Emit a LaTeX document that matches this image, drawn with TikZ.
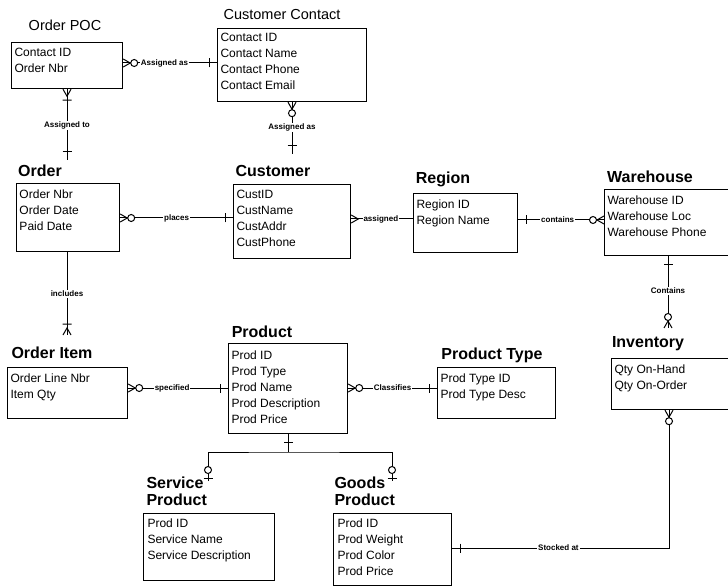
\documentclass[tikz,border=0pt]{standalone}
\usepackage{xcolor}
\usepackage{fontspec}
\setmainfont{Liberation Sans}
\usetikzlibrary{positioning}

\begin{document}
\begin{tikzpicture}[
        x=1pt, y=-1pt, line width=1pt,
        every node/.style={inner sep=0pt},
        entity/.style={draw, anchor=north west, line width=1.2pt},
        fields/.style={anchor=north west, align=left, font=\fontsize{12}{16}\selectfont},
        etitle/.style={font=\fontsize{16}{17}\selectfont\bfseries},
        ptitle/.style={font=\fontsize{14.5}{16}\selectfont},
        rel/.style={font=\fontsize{8}{9}\selectfont\bfseries, fill=white, inner sep=1pt},
        many/.pic={\draw (0,-4) -- (7,0) -- (0,4);},
        zmany/.pic={\draw (0,-4) -- (7,0) -- (0,4); \draw[fill=white] (11,0) circle[radius=3.5pt];},
        mmany/.pic={\draw (0,-4) -- (7,0) -- (0,4) (11,-4.5) -- (11,4.5);},
        one/.pic={\draw (8,-4.5) -- (8,4.5);},
        zone/.pic={\draw (3,-4.5) -- (3,4.5); \draw[fill=white] (11,0) circle[radius=3.5pt];},
    ]
    \useasboundingbox (0,0) rectangle (728,588);

    % Order POC
    \node[ptitle] (poc-t) at (65,25) {Order POC};
    \node[entity, minimum width=111, minimum height=46] (poc) at (11,42) {};
    \node[fields, below right=6pt and 3pt of poc.north west] (poc-f) {Contact ID\\Order Nbr};

    % Customer Contact
    \node[ptitle] (cc-t) at (282,15) {Customer Contact};
    \node[entity, minimum width=149, minimum height=73] (cc) at (217,28) {};
    \node[fields, below right=5pt and 3pt of cc.north west] (cc-f) {Contact ID\\Contact Name\\Contact Phone\\Contact Email};

    % Order
    \node[etitle] (order-t) at (40,171) {Order};
    \node[entity, minimum width=103, minimum height=68] (order) at (16,183) {};
    \node[fields, below right=6pt and 3pt of order.north west] (order-f) {Order Nbr\\Order Date\\Paid Date};

    % Customer
    \node[etitle] (cust-t) at (273,171) {Customer};
    \node[entity, minimum width=117, minimum height=74] (cust) at (233,184) {};
    \node[fields, below right=6pt and 3pt of cust.north west] (cust-f) {CustID\\CustName\\CustAddr\\CustPhone};

    % Region
    \node[etitle] (region-t) at (443,179) {Region};
    \node[entity, minimum width=104, minimum height=59] (region) at (413,193) {};
    \node[fields, below right=6pt and 3pt of region.north west] (region-f) {Region ID\\Region Name};

    % Warehouse
    \node[etitle] (wh-t) at (650,177) {Warehouse};
    \node[entity, minimum width=130, minimum height=66] (wh) at (604,189) {};
    \node[fields, below right=6pt and 3pt of wh.north west] (wh-f) {Warehouse ID\\Warehouse Loc\\Warehouse Phone};

    % Inventory
    \node[etitle] (inv-t) at (648,344) {Inventory};
    \node[entity, minimum width=130, minimum height=51] (inv) at (611,358) {};
    \node[fields, below right=6pt and 3pt of inv.north west] (inv-f) {Qty On-Hand\\Qty On-Order};

    % Order Item
    \node[etitle] (oi-t) at (52,353) {Order Item};
    \node[entity, minimum width=120, minimum height=51] (oi) at (7,367) {};
    \node[fields, below right=6pt and 3pt of oi.north west] (oi-f) {Order Line Nbr\\Item Qty};

    % Product
    \node[etitle] (prod-t) at (262,332) {Product};
    \node[entity, minimum width=119, minimum height=90] (prod) at (228,343) {};
    \node[fields, below right=7pt and 3pt of prod.north west] (prod-f) {Prod ID\\Prod Type\\Prod Name\\Prod Description\\Prod Price};

    % Product Type
    \node[etitle] (ptype-t) at (492,355) {Product Type};
    \node[entity, minimum width=118, minimum height=51] (ptype) at (437,367) {};
    \node[fields, below right=6pt and 3pt of ptype.north west] (ptype-f) {Prod Type ID\\Prod Type Desc};

    % Service Product
    \node[etitle, anchor=west, align=left] (svc-t) at (146,491) {Service\\Product};
    \node[entity, minimum width=131, minimum height=67] (svc) at (143,513) {};
    \node[fields, below right=5pt and 4pt of svc.north west] (svc-f) {Prod ID\\Service Name\\Service Description};

    % Goods Product
    \node[etitle, anchor=west, align=left] (goods-t) at (334,491) {Goods\\Product};
    \node[entity, minimum width=118, minimum height=72] (goods) at (333,513) {};
    \node[fields, below right=5pt and 4pt of goods.north west] (goods-f) {Prod ID\\Prod Weight\\Prod Color\\Prod Price};

    % free ends above the titles
    \coordinate (order-in) at (67,160);
    \coordinate (cust-in) at (292,154);
    \coordinate (inv-in) at (668,328);
    \coordinate (oi-in) at (67,335);
    \coordinate (split) at (288,452);
    \coordinate (svc-in) at (208,481);
    \coordinate (goods-in) at (392,481);

    % Relationships
    \draw (poc.east |- 0,63) -- node[rel, pos=.44] (r1) {Assigned as} (cc.west |- 0,63);
    \pic at (poc.east |- 0,63) {zmany};
    \pic[rotate=180] at (cc.west |- 0,63) {one};

    \draw (poc.south -| 67,0) -- node[rel, pos=.51] (r2) {Assigned to} (order-in);
    \pic[rotate=-90] at (poc.south -| 67,0) {mmany};
    \pic[rotate=90] at (order-in) {one};

    \draw (cc.south -| 292,0) -- node[rel, pos=.49] (r3) {Assigned as} (cust-in);
    \pic[rotate=-90] at (cc.south -| 292,0) {zmany};
    \pic[rotate=90] at (cust-in) {one};

    \draw (order.east |- 0,218) -- node[rel, pos=.5] (r4) {places} (cust.west |- 0,218);
    \pic at (order.east |- 0,218) {zmany};
    \pic[rotate=180] at (cust.west |- 0,218) {one};

    \draw (cust.east |- 0,219) -- node[rel, pos=.48] (r5) {assigned} (region.west |- 0,219);
    \pic at (cust.east |- 0,219) {many};

    \draw (region.east |- 0,220) -- node[rel, pos=.46] (r6) {contains} (wh.west |- 0,220);
    \pic at (region.east |- 0,220) {one};
    \pic[rotate=180] at (wh.west |- 0,220) {zmany};

    \draw (wh.south -| 668,0) -- node[rel, pos=.48] (r7) {Contains} (inv-in);
    \pic[rotate=-90] at (wh.south -| 668,0) {one};
    \pic[rotate=90] at (inv-in) {zmany};

    \draw (inv.south -| 669,0) |- node[rel, pos=.755] (r8) {Stocked at} (goods.east |- 0,548);
    \pic[rotate=-90] at (inv.south -| 669,0) {zmany};
    \pic at (goods.east |- 0,548) {one};

    \draw (order.south -| 67,0) -- node[rel, pos=.5] (r9) {includes} (oi-in);
    \pic[rotate=90] at (oi-in) {mmany};

    \draw (oi.east |- 0,388) -- node[rel, pos=.44] (r10) {specified} (prod.west |- 0,388);
    \pic at (oi.east |- 0,388) {zmany};
    \pic[rotate=180] at (prod.west |- 0,388) {one};

    \draw (prod.east |- 0,388) -- node[rel, pos=.5] (r11) {Classifies} (ptype.west |- 0,388);
    \pic at (prod.east |- 0,388) {zmany};
    \pic[rotate=180] at (ptype.west |- 0,388) {one};

    % Subtypes
    \draw (prod.south -| 288,0) -- (split);
    \draw (svc-in) |- (split) -| (goods-in);
    \pic[rotate=-90] at (prod.south -| 288,0) {one};
    \pic[rotate=90] at (svc-in) {zone};
    \pic[rotate=90] at (goods-in) {zone};
\end{tikzpicture}
\end{document}
